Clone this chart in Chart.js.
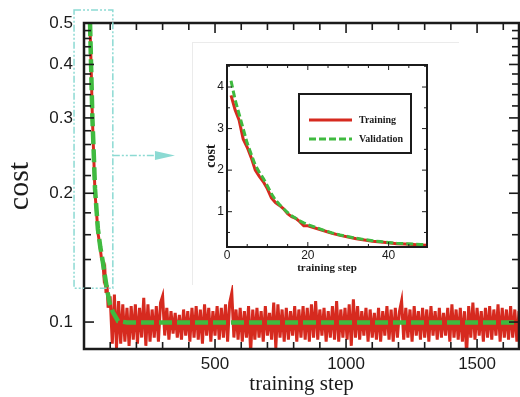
<!DOCTYPE html>
<html>
<head>
<meta charset="utf-8">
<script src="https://cdn.jsdelivr.net/npm/chart.js@4.4.0/dist/chart.umd.min.js"></script>
<style>
  body { margin: 0; background: #fff; }
  #wrap { position: relative; width: 520px; height: 397px; overflow: hidden; }
  #main { position: absolute; left: 0; top: 0; }
  #panel { position: absolute; left: 192px; top: 42px; width: 266px; height: 242px; background: #fff;
           border-top: 1px solid #ebebeb; border-left: 1px solid #ebebeb; }
  #inset { position: absolute; left: 192px; top: 42px; }
  #overlay { position: absolute; left: 0; top: 0; pointer-events: none; }
</style>
</head>
<body>
<div id="wrap">
  <canvas id="main" width="520" height="397"></canvas>
  <div id="panel"></div>
  <canvas id="inset" width="268" height="245"></canvas>
  <canvas id="overlay" width="520" height="397"></canvas>
</div>
<script>
// ---- main plot data (log cost vs training step) ----
var trainEarlySteps = [20, 23, 27, 32, 37, 42, 48, 53, 60, 66, 72, 76, 80, 84, 88, 92, 96];
var trainEarlyCost  = [0.56, 0.49, 0.40, 0.30, 0.245, 0.20, 0.18, 0.162, 0.152, 0.142, 0.138, 0.128, 0.131, 0.117, 0.122, 0.108, 0.114];

var trainNoiseStart = 100;
var trainNoiseGap = 8;
var trainNoiseCost = [
  0.114, 0.089, 0.116, 0.087, 0.112, 0.089, 0.110, 0.090, 0.108, 0.088,
  0.109, 0.091, 0.110, 0.089, 0.108, 0.092, 0.114, 0.088, 0.110, 0.090,
  0.107, 0.092, 0.109, 0.090, 0.111, 0.115, 0.093, 0.108, 0.091, 0.106,
  0.094, 0.105, 0.092, 0.104, 0.091, 0.107, 0.093, 0.106, 0.090, 0.108,
  0.092, 0.109, 0.091, 0.107, 0.089, 0.110, 0.093, 0.108, 0.090, 0.106,
  0.093, 0.109, 0.091, 0.108, 0.092, 0.110, 0.090, 0.111, 0.117, 0.092,
  0.107, 0.091, 0.108, 0.090, 0.106, 0.092, 0.109, 0.085, 0.107, 0.091,
  0.108, 0.092, 0.106, 0.090, 0.109, 0.093, 0.105, 0.091, 0.111, 0.087,
  0.110, 0.092, 0.107, 0.090, 0.108, 0.091, 0.106, 0.093, 0.109, 0.090,
  0.107, 0.092, 0.109, 0.091, 0.108, 0.090, 0.110, 0.092, 0.112, 0.091,
  0.107, 0.093, 0.108, 0.090, 0.106, 0.092, 0.109, 0.091, 0.112, 0.090,
  0.107, 0.092, 0.108, 0.091, 0.110, 0.088, 0.113, 0.092, 0.109, 0.091,
  0.106, 0.093, 0.108, 0.090, 0.107, 0.092, 0.105, 0.091, 0.108, 0.090,
  0.106, 0.093, 0.109, 0.091, 0.107, 0.090, 0.108, 0.092, 0.106, 0.112,
  0.091, 0.108, 0.092, 0.107, 0.090, 0.109, 0.093, 0.106, 0.091, 0.108,
  0.092, 0.107, 0.090, 0.109, 0.093, 0.106, 0.091, 0.108, 0.092, 0.105,
  0.093, 0.108, 0.090, 0.110, 0.092, 0.107, 0.091, 0.108, 0.090, 0.106,
  0.084, 0.109, 0.092, 0.111, 0.091, 0.108, 0.093, 0.106, 0.090, 0.108,
  0.092, 0.109, 0.091, 0.107, 0.093, 0.110, 0.090, 0.108, 0.092, 0.107,
  0.091, 0.109, 0.092, 0.107, 0.090, 0.106
];

var validSteps = [20, 23, 27, 32, 37, 42, 53, 62, 72, 80, 88, 99, 110, 130, 164, 1660];
var validCost  = [0.55, 0.50, 0.40, 0.30, 0.25, 0.205, 0.165, 0.15, 0.138, 0.128, 0.119, 0.110, 0.1055, 0.1005, 0.0998, 0.0998];

var xTickValues = [100, 200, 300, 400, 500, 600, 700, 800, 900, 1000, 1100, 1200, 1300, 1400, 1500, 1600];
var xLabelValues = [500, 1000, 1500];
var yTickValues = [0.1, 0.12, 0.14, 0.16, 0.18, 0.2, 0.22, 0.24, 0.26, 0.28, 0.3, 0.32, 0.34, 0.36, 0.38,
                   0.4, 0.42, 0.44, 0.46, 0.48, 0.5];
var yLabelValues = [0.1, 0.2, 0.3, 0.4, 0.5];

// ---- inset data (first 50 steps, linear) ----
var insetSteps      = [1, 2, 3, 4, 5, 6, 7, 8, 9, 10, 11, 12, 13, 14, 15, 16, 17, 18, 19, 20,
                       22, 24, 26, 28, 30, 32, 34, 36, 38, 40, 42, 44, 46, 48, 50];
var insetTrainCost  = [3.8, 3.45, 3.2, 2.75, 2.55, 2.3, 2.0, 1.85, 1.72, 1.55, 1.33, 1.22, 1.15, 1.07, 0.95, 0.88, 0.84, 0.76, 0.66, 0.66,
                       0.6, 0.54, 0.48, 0.43, 0.39, 0.35, 0.32, 0.29, 0.27, 0.25, 0.23, 0.22, 0.21, 0.2, 0.19];
var insetValidCost  = [4.15, 3.7, 3.35, 3.0, 2.65, 2.38, 2.12, 1.95, 1.8, 1.62, 1.43, 1.28, 1.17, 1.07, 0.98, 0.9, 0.84, 0.78, 0.73, 0.69,
                       0.62, 0.55, 0.49, 0.44, 0.4, 0.36, 0.33, 0.3, 0.28, 0.26, 0.24, 0.23, 0.22, 0.21, 0.2];
var insetXTicks = [0, 5, 10, 15, 20, 25, 30, 35, 40, 45];
var insetXLabels = [0, 20, 40];
var insetYTicks = [0.5, 1, 1.5, 2, 2.5, 3, 3.5, 4, 4.5];
var insetYLabels = [1, 2, 3, 4];

var RED = '#d62a1f', GREEN = '#3fba3f', INK = '#1b1b1b', CYAN = '#8cdad3';

// per-canvas frame/tick settings
var frameCfg = {
  main:  { tickWidth: 1.6, frameWidth: 2.5, majorLen: 10, minorLen: 7,
           xTicks: xTickValues, xMajor: xLabelValues, yTicks: yTickValues, yMajor: yLabelValues },
  inset: { tickWidth: 1, frameWidth: 2, majorLen: 5, minorLen: 3,
           xTicks: insetXTicks, xMajor: insetXLabels, yTicks: insetYTicks, yMajor: insetYLabels }
};

function pts(xs, ys) {
  return xs.map(function(x, i) { return { x: x, y: ys[i] }; });
}

var trainMain = pts(trainEarlySteps, trainEarlyCost).concat(
  trainNoiseCost.map(function(v, i) { return { x: trainNoiseStart + i * trainNoiseGap, y: v }; })
);

function drawFrame(chart) {
  var cfg = frameCfg[chart.canvas.id];
  var ctx = chart.ctx, a = chart.chartArea;
  ctx.save();
  ctx.setLineDash([]);
  ctx.strokeStyle = INK;
  ctx.lineWidth = cfg.frameWidth;
  ctx.strokeRect(a.left, a.top, a.right - a.left, a.bottom - a.top);
  ctx.restore();
}

// inward tick marks, drawn on the overlay canvas from each chart's own scales
function drawTicks(ctx, chart, cfg, ox, oy) {
  var a = chart.chartArea, sx = chart.scales.x, sy = chart.scales.y;
  var w = cfg.tickWidth;
  ctx.save();
  ctx.translate(ox, oy);
  ctx.fillStyle = INK;
  cfg.xTicks.forEach(function(v) {
    var px = sx.getPixelForValue(v);
    if (!isFinite(px)) return;
    var len = cfg.xMajor.indexOf(v) >= 0 ? cfg.majorLen : cfg.minorLen;
    ctx.fillRect(px - w / 2, a.bottom - len, w, len);
    ctx.fillRect(px - w / 2, a.top, w, len);
  });
  cfg.yTicks.forEach(function(v) {
    var py = sy.getPixelForValue(v);
    if (!isFinite(py)) return;
    var len = cfg.yMajor.indexOf(v) >= 0 ? cfg.majorLen : cfg.minorLen;
    ctx.fillRect(a.left, py - w / 2, len, w);
    ctx.fillRect(a.right - len, py - w / 2, len, w);
  });
  ctx.restore();
}

// main chart: frame, dash-dot zoom box + arrow pointing at the inset
var mainDecor = {
  id: 'mainDecor',
  afterDraw: function(chart) {
    drawFrame(chart);
    var ctx = chart.ctx, sx = chart.scales.x, sy = chart.scales.y;
    var box = { x0: -38, x1: 110, y0: 0.12, y1: 0.536 }, arrow = { x1: 347, y: 0.245 };
    var l = sx.getPixelForValue(box.x0), r = sx.getPixelForValue(box.x1);
    var t = sy.getPixelForValue(box.y1), b = sy.getPixelForValue(box.y0);
    var ay = sy.getPixelForValue(arrow.y), ax1 = sx.getPixelForValue(arrow.x1);
    ctx.save();
    ctx.strokeStyle = CYAN;
    ctx.fillStyle = CYAN;
    ctx.lineWidth = 1.5;
    ctx.setLineDash([7, 2, 2, 2, 2, 2]);
    ctx.strokeRect(l, t, r - l, b - t);
    ctx.beginPath();
    ctx.moveTo(r, ay); ctx.lineTo(ax1 - 20, ay);
    ctx.stroke();
    ctx.setLineDash([]);
    ctx.beginPath();
    ctx.moveTo(ax1, ay); ctx.lineTo(ax1 - 20, ay - 4.5); ctx.lineTo(ax1 - 20, ay + 4.5);
    ctx.closePath();
    ctx.fill();
    ctx.restore();
  }
};

// inset chart: frame and boxed legend
var insetDecor = {
  id: 'insetDecor',
  afterDraw: function(chart) {
    drawFrame(chart);
    var ctx = chart.ctx, a = chart.chartArea;
    var bx = a.left + 72, by = a.top + 29, w = 112, h = 59, rows = [26, 45];
    ctx.save();
    ctx.fillStyle = '#fff';
    ctx.fillRect(bx, by, w, h);
    ctx.strokeStyle = INK;
    ctx.lineWidth = 2;
    ctx.strokeRect(bx, by, w, h);
    var ds = chart.data.datasets.slice().sort(function(p, q) { return q.order - p.order; });
    ds.forEach(function(d, i) {
      var ly = by + rows[i];
      ctx.strokeStyle = d.borderColor;
      ctx.lineWidth = 3;
      ctx.setLineDash(d.borderDash || []);
      ctx.beginPath();
      ctx.moveTo(bx + 10, ly); ctx.lineTo(bx + 53, ly);
      ctx.stroke();
      ctx.setLineDash([]);
      ctx.fillStyle = INK;
      ctx.font = 'bold 10px "Liberation Serif"';
      ctx.textBaseline = 'middle';
      ctx.fillText(d.label, bx + 60, ly);
    });
    ctx.restore();
  }
};

Chart.defaults.font.family = '"Liberation Sans", Arial, sans-serif';
Chart.defaults.color = INK;

var mainChart = new Chart(document.getElementById('main').getContext('2d'), {
  type: 'line',
  data: {
    datasets: [
      { label: 'Training', data: trainMain, borderColor: RED, borderWidth: 3, pointRadius: 0, tension: 0, order: 2 },
      { label: 'Validation', data: pts(validSteps, validCost), borderColor: GREEN, borderWidth: 4.5,
        borderDash: [13, 5], pointRadius: 0, tension: 0, order: 1 }
    ]
  },
  options: {
    responsive: false,
    animation: false,
    devicePixelRatio: 1,
    layout: { padding: { top: 23, right: 1, left: 0, bottom: 0 } },
    plugins: { legend: { display: false }, tooltip: { enabled: false } },
    scales: {
      x: {
        type: 'linear', min: 0, max: 1660,
        grid: { display: false, drawTicks: false },
        border: { display: false },
        afterBuildTicks: function(s) { s.ticks = xTickValues.map(function(v) { return { value: v }; }); },
        afterFit: function(s) { s.height = 48; },
        ticks: {
          autoSkip: false, maxRotation: 0, padding: 5, font: { size: 17 },
          callback: function(v) { return xLabelValues.indexOf(v) >= 0 ? String(v) : ''; }
        },
        title: { display: true, text: 'training step', font: { family: '"Liberation Serif", serif', size: 21 }, padding: { top: 0, bottom: 0 } }
      },
      y: {
        type: 'logarithmic', min: 0.0865, max: 0.5,
        grid: { display: false, drawTicks: false },
        border: { display: false },
        afterBuildTicks: function(s) { s.ticks = yTickValues.map(function(v) { return { value: v }; }); },
        afterFit: function(s) { s.width = 84; },
        ticks: {
          autoSkip: false, padding: 11, font: { size: 17 },
          callback: function(v) { return yLabelValues.indexOf(v) >= 0 ? String(v) : ''; }
        },
        title: { display: true, text: 'cost', font: { family: '"Liberation Serif", serif', size: 30 }, padding: { top: 2, bottom: 0 } }
      }
    }
  },
  plugins: [mainDecor]
});

var insetChart = new Chart(document.getElementById('inset').getContext('2d'), {
  type: 'line',
  data: {
    datasets: [
      { label: 'Training', data: pts(insetSteps, insetTrainCost), borderColor: RED, borderWidth: 3, pointRadius: 0, tension: 0, order: 2 },
      { label: 'Validation', data: pts(insetSteps, insetValidCost), borderColor: GREEN, borderWidth: 3,
        borderDash: [7, 3], pointRadius: 0, tension: 0, order: 1 }
    ]
  },
  options: {
    responsive: false,
    animation: false,
    devicePixelRatio: 1,
    layout: { padding: { top: 23, right: 33, left: 0, bottom: 0 } },
    plugins: { legend: { display: false }, tooltip: { enabled: false } },
    scales: {
      x: {
        type: 'linear', min: 0, max: 49.5,
        grid: { display: false, drawTicks: false },
        border: { display: false },
        afterBuildTicks: function(s) { s.ticks = insetXTicks.map(function(v) { return { value: v }; }); },
        afterFit: function(s) { s.height = 40; },
        ticks: {
          autoSkip: false, maxRotation: 0, padding: 1, font: { size: 12 },
          callback: function(v) { return insetXLabels.indexOf(v) >= 0 ? String(v) : ''; }
        },
        title: { display: true, text: 'training step', font: { family: '"Liberation Serif", serif', size: 11, weight: 'bold' }, padding: { top: 0, bottom: 12 } }
      },
      y: {
        type: 'linear', min: 0.15, max: 4.53,
        grid: { display: false, drawTicks: false },
        border: { display: false },
        afterBuildTicks: function(s) { s.ticks = insetYTicks.map(function(v) { return { value: v }; }); },
        afterFit: function(s) { s.width = 35; },
        ticks: {
          autoSkip: false, padding: 3, font: { size: 12 },
          callback: function(v) { return insetYLabels.indexOf(v) >= 0 ? String(v) : ''; }
        },
        title: { display: true, text: 'cost', font: { family: '"Liberation Serif", serif', size: 14, weight: 'bold' }, padding: { top: 11, bottom: 0 } }
      }
    }
  },
  plugins: [insetDecor]
});

var overlayCtx = document.getElementById('overlay').getContext('2d');
drawTicks(overlayCtx, mainChart, frameCfg.main, 0, 0);
drawTicks(overlayCtx, insetChart, frameCfg.inset, 192, 42);
</script>
</body>
</html>
